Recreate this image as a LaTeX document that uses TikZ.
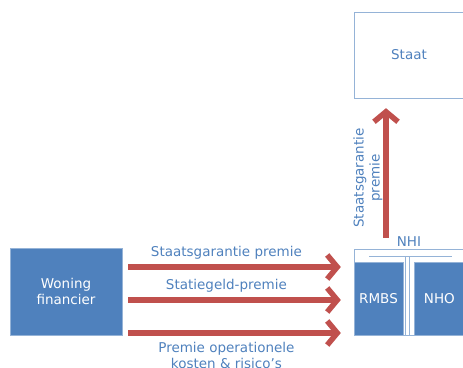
\documentclass[tikz,border=0pt]{standalone}
\usepackage{xcolor}
\usepackage{fontspec}
\setmainfont{DejaVu Sans}
\usepackage{tikz}
\usetikzlibrary{arrows.meta,positioning}
\definecolor{NhiBlue}{RGB}{79,129,189}
\definecolor{NhiLight}{RGB}{149,179,215}
\definecolor{NhiRed}{RGB}{192,80,77}

\begin{document}
\begin{tikzpicture}[x=1pt,y=-1pt,font=\fontsize{13.5}{16}\selectfont,
    blok/.style={rectangle,draw=NhiLight,fill=NhiBlue,text=white,inner sep=0pt,align=center},
    kader/.style={rectangle,draw=NhiLight,inner sep=0pt,text=NhiBlue},
    pijl/.style={-{Straight Barb[length=10pt,width=24pt]},line width=5.5pt,color=NhiRed},
    pijltekst/.style={text=NhiBlue,align=center,inner sep=2pt}]
    \useasboundingbox (0,0) rectangle (463,367);

    \node[blok,minimum width=112pt,minimum height=87pt] (woning) at (66,291.5) {Woning\\financier};
    \node[kader,minimum width=110pt,minimum height=86pt] (staat) at (409,55) {Staat};
    \node[kader,minimum width=110pt,minimum height=86pt] (nhi) at (409,292) {};
    \node[blok,minimum width=49pt,minimum height=73pt] (rmbs) at (378.5,298.5) {RMBS};
    \node[blok,minimum width=50pt,minimum height=73pt,right=11pt of rmbs] (nho) {NHO};
    \node[pijltekst,above=0pt of nhi] (nhilabel) {NHI};

    % witte T tussen de blokken
    \draw[NhiLight] (369,256) -- (452,256);
    \draw[NhiLight] (405.5,256) -- (405.5,335);
    \draw[NhiLight] (409.5,256) -- (409.5,335);

    \draw[pijl,shorten <=6pt,shorten >=13pt] ([yshift=24.5pt]woning.east) -- ([yshift=24.5pt]woning.east -| nhi.west)
        node[pijltekst,pos=0.45,above=3pt] (garantie) {Staatsgarantie premie};
    \draw[pijl,shorten <=6pt,shorten >=13pt] ([yshift=-8.5pt]woning.east) -- ([yshift=-8.5pt]woning.east -| nhi.west)
        node[pijltekst,pos=0.45,above=3pt] (statiegeld) {Statiegeld-premie};
    \draw[pijl,shorten <=6pt,shorten >=13pt] ([yshift=-41.5pt]woning.east) -- ([yshift=-41.5pt]woning.east -| nhi.west)
        node[pijltekst,pos=0.45,below=4pt] (operationeel) {Premie operationele\\kosten \& risico’s};

    \draw[pijl,shorten <=11pt,shorten >=10pt] ([xshift=-23pt]nhi.north) -- ([xshift=-23pt]staat.south);
    \node[pijltekst,rotate=90,inner sep=0pt] (staatspremie) at (368,178) {Staatsgarantie\\premie};
\end{tikzpicture}
\end{document}
